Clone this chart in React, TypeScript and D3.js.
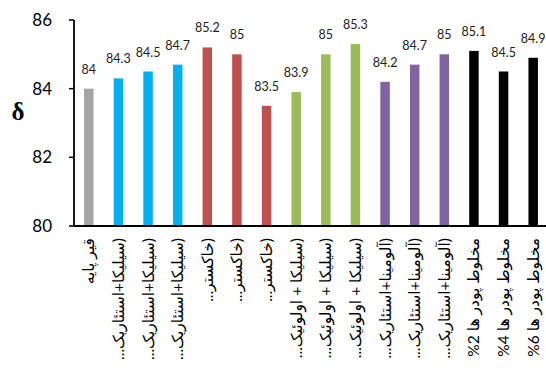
import { scaleBand, scaleLinear, range } from 'd3'

const width = 546
const height = 375
const margin = { top: 20, right: -2, bottom: 149, left: 74 }

const categories = [
  'قیر پایه',
  '(سیلیکا+استئاریک...',
  '(سیلیکا+استئاریک...',
  '(سیلیکا+استئاریک...',
  '(خاکستر...',
  '(خاکستر...',
  '(خاکستر...',
  '(سیلیکا + اولوئیک...',
  '(سیلیکا + اولوئیک...',
  '(سیلیکا + اولوئیک...',
  '(آلومینا+استئاریک...',
  '(آلومینا+استئاریک...',
  '(آلومینا+استئاریک...',
  'مخلوط پودر ها 2%',
  'مخلوط پودر ها 4%',
  'مخلوط پودر ها 6%',
]
const values = [84, 84.3, 84.5, 84.7, 85.2, 85, 83.5, 83.9, 85, 85.3, 84.2, 84.7, 85, 85.1, 84.5, 84.9]
const barColors = [
  '#A5A5A5',
  '#00B0F0', '#00B0F0', '#00B0F0',
  '#C0504D', '#C0504D', '#C0504D',
  '#9BBB59', '#9BBB59', '#9BBB59',
  '#8064A2', '#8064A2', '#8064A2',
  '#000000', '#000000', '#000000',
]
const yTicks = [80, 82, 84, 86]
const yLabel = 'δ'

const font = "Lato, 'DejaVu Sans', sans-serif"

export default function App() {
  const innerWidth = width - margin.left - margin.right
  const innerHeight = height - margin.top - margin.bottom

  const xScale = scaleBand<number>()
    .domain(range(categories.length))
    .range([0, innerWidth])
    .paddingInner(0.68)
    .paddingOuter(0.34)

  const yScale = scaleLinear().domain([80, 86]).range([innerHeight, 0])

  return (
    <svg
      width={width}
      height={height}
      style={{ position: 'absolute', left: 0, top: 0, background: '#fff' }}
    >
      <text
        x={18}
        y={120}
        textAnchor="middle"
        fontFamily="'Liberation Serif', serif"
        fontWeight="bold"
        fontSize={25}
      >
        {yLabel}
      </text>
      <g transform={`translate(${margin.left},${margin.top})`}>
        {values.map((v, i) => (
          <rect
            key={i}
            x={xScale(i)}
            y={yScale(v)}
            width={xScale.bandwidth()}
            height={innerHeight - yScale(v)}
            fill={barColors[i]}
          />
        ))}
        {values.map((v, i) => (
          <text
            key={i}
            x={xScale(i)! + xScale.bandwidth() / 2}
            y={yScale(v) - 15}
            textAnchor="middle"
            fontFamily={font}
            fontSize={12.5}
            fill="#222"
          >
            {String(v)}
          </text>
        ))}
        {yTicks.map((t) => (
          <g key={t} transform={`translate(0,${yScale(t)})`}>
            <line x1={-5} x2={0} stroke="#000" strokeWidth={1.5} />
            <text
              x={-22}
              dy="0.36em"
              textAnchor="end"
              fontFamily={font}
              fontSize={17}
              fill="#000"
            >
              {t}
            </text>
          </g>
        ))}
        <line x1={0} x2={0} y1={0} y2={innerHeight} stroke="#000" strokeWidth={1.8} />
        <line x1={0} x2={innerWidth + 2} y1={innerHeight} y2={innerHeight} stroke="#000" strokeWidth={1.8} />
        {categories.map((c, i) => (
          <text
            key={i}
            transform={`translate(${xScale(i)! + xScale.bandwidth() / 2},${innerHeight + 12}) rotate(-90)`}
            dy="0.35em"
            direction="rtl"
            textAnchor="start"
            fontFamily={font}
            fontSize={15.5}
            fill="#000"
          >
            {c}
          </text>
        ))}
      </g>
    </svg>
  )
}
